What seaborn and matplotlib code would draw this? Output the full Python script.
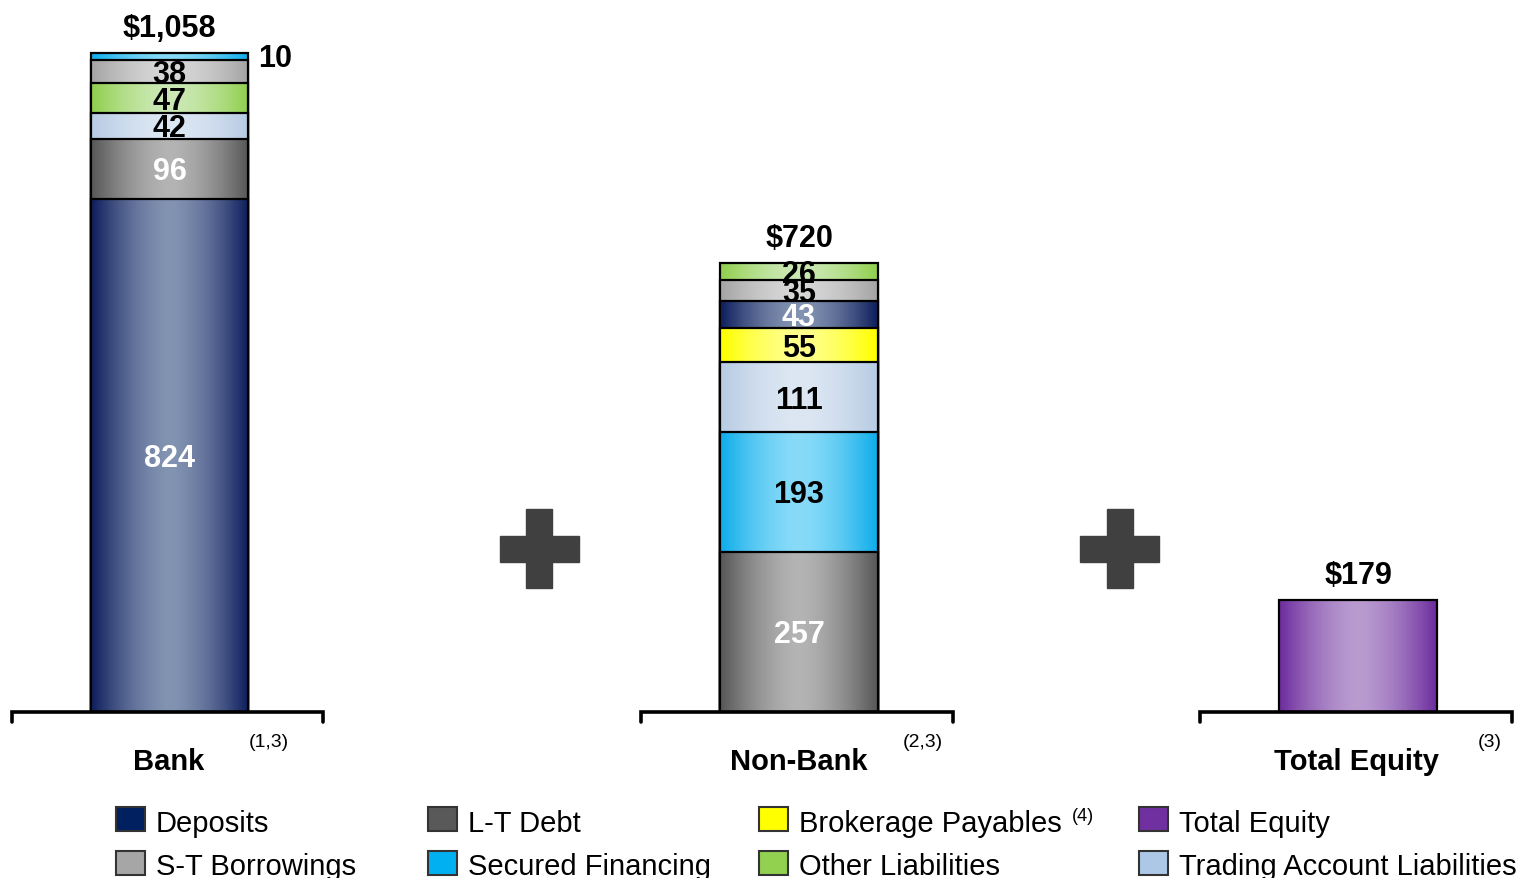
import numpy as np
import pandas as pd
import matplotlib
matplotlib.use("Agg")
import matplotlib.pyplot as plt
import seaborn as sns
from matplotlib.patches import Rectangle
from matplotlib.colors import to_rgb

# ---------------- data ----------------
panels = ["Bank", "Non-Bank", "Total Equity"]
panel_notes = ["(1,3)", "(2,3)", "(3)"]
panel_totals = ["$1,058", "$720", "$179"]

bank_components = ["Deposits", "L-T Debt", "Trading Account Liabilities",
                   "Other Liabilities", "S-T Borrowings", "Secured Financing"]
bank_values = [824, 96, 42, 47, 38, 10]

nonbank_components = ["L-T Debt", "Secured Financing", "Trading Account Liabilities",
                      "Brokerage Payables", "Deposits", "S-T Borrowings", "Other Liabilities"]
nonbank_values = [257, 193, 111, 55, 43, 35, 26]

equity_components = ["Total Equity"]
equity_values = [179]

legend_row1 = ["Deposits", "L-T Debt", "Brokerage Payables", "Total Equity"]
legend_row2 = ["S-T Borrowings", "Secured Financing", "Other Liabilities",
               "Trading Account Liabilities"]

# ---------------- styles ----------------
edge_colors = {
    "Deposits": "#122260",
    "L-T Debt": "#5A5A5A",
    "Brokerage Payables": "#FFFF00",
    "Total Equity": "#7030A0",
    "S-T Borrowings": "#A6A6A6",
    "Secured Financing": "#12AEEB",
    "Other Liabilities": "#92D050",
    "Trading Account Liabilities": "#B8CCE4",
}
center_colors = {
    "Deposits": "#8393B2",
    "L-T Debt": "#B4B4B4",
    "Brokerage Payables": "#FFFF8C",
    "Total Equity": "#B99BD0",
    "S-T Borrowings": "#D8D8D8",
    "Secured Financing": "#88DBF8",
    "Other Liabilities": "#CCE9B5",
    "Trading Account Liabilities": "#DDE7F3",
}
legend_colors = {
    "Deposits": "#002060",
    "L-T Debt": "#595959",
    "Brokerage Payables": "#FFFF00",
    "Total Equity": "#7030A0",
    "S-T Borrowings": "#A6A6A6",
    "Secured Financing": "#00B0F0",
    "Other Liabilities": "#92D050",
    "Trading Account Liabilities": "#ADC8E6",
}
white_label = {"Deposits", "L-T Debt"}

W, H, DPI = 1522, 879, 100
SCALE = 0.623      # pixels per unit
BASE_Y = 713       # baseline pixel row
BAR_W = 0.505
PX2PT = 72 / DPI

sns.set_theme(style="white")
plt.rcParams["font.family"] = ["Liberation Sans", "DejaVu Sans"]

fig = plt.figure(figsize=(W / DPI, H / DPI), dpi=DPI)
fig.patch.set_facecolor("white")


def fx(px):
    return px / W


def fy(py):
    return 1 - py / H


axes_left = [12, 641, 1200]
axes_width = [311, 312, 312]
label_x = [169, 799, 1357]
note_x = [269, 923, 1490]

all_comps = [bank_components, nonbank_components, equity_components]
all_vals = [bank_values, nonbank_values, equity_values]


def gradient(comp):
    u = np.linspace(0, 1, 256)
    t = np.abs(2 * u - 1)
    m = np.clip(t ** 1.6 * 1.05, 0, 1)
    c0 = np.array(to_rgb(center_colors[comp]))
    c1 = np.array(to_rgb(edge_colors[comp]))
    img = c0[None, :] * (1 - m)[:, None] + c1[None, :] * m[:, None]
    return img[None, :, :]


for p in range(3):
    ax = fig.add_axes([fx(axes_left[p]), fy(BASE_Y), axes_width[p] / W, BASE_Y / H])
    ax.set_facecolor("none")
    comps = all_comps[p]
    vals = np.array(all_vals[p], dtype=float)
    tops = np.cumsum(vals)
    bottoms = tops - vals
    order = np.argsort(-tops)
    for k, i in enumerate(order):
        z = 2 + 3 * k
        df = pd.DataFrame({"panel": [panels[p]], "value": [tops[i]]})
        n0 = len(ax.patches)
        sns.barplot(data=df, x="panel", y="value", color=edge_colors[comps[i]],
                    saturation=1, width=BAR_W, ax=ax, edgecolor="none",
                    linewidth=0, zorder=z, errorbar=None)
        patch = ax.patches[n0]
        x0, w, h = patch.get_x(), patch.get_width(), patch.get_height()
        im = ax.imshow(gradient(comps[i]), extent=(x0, x0 + w, 0, h),
                       aspect="auto", zorder=z + 1, interpolation="bilinear")
        im.set_clip_path(patch)
        ax.add_patch(Rectangle((x0, 0), w, h, fill=False, edgecolor="black",
                               linewidth=1.6, zorder=z + 2))
    # segment labels
    if len(comps) > 1:
        for i, comp in enumerate(comps):
            col = "white" if comp in white_label else "black"
            yc = bottoms[i] + vals[i] / 2
            if vals[i] < 15:
                ax.annotate(f"{int(vals[i])}", (0.339, yc), xytext=(0, -1 * PX2PT),
                            textcoords="offset points", ha="center", va="center",
                            fontsize=22, fontweight="bold", color="black",
                            zorder=100, annotation_clip=False)
            else:
                ax.annotate(f"{int(vals[i])}", (0, yc), xytext=(0, -2.5 * PX2PT),
                            textcoords="offset points", ha="center", va="center",
                            fontsize=22, fontweight="bold", color=col, zorder=100,
                            annotation_clip=False)
    # total label
    ax.annotate(panel_totals[p], (0, tops[-1]), xytext=(0, 25 * PX2PT),
                textcoords="offset points", ha="center", va="center",
                fontsize=22, fontweight="bold", color="black",
                annotation_clip=False, zorder=100)
    # bracket axis
    d = 10 / BASE_Y
    ax.plot([0, 0, 1, 1], [-d, 0, 0, -d], transform=ax.transAxes, color="black",
            lw=2.6, clip_on=False, solid_joinstyle="miter", zorder=200)
    dx = 2 / axes_width[p]
    ax.set_xlim(-0.5 - dx, 0.5 - dx)
    ax.set_ylim(0, BASE_Y / SCALE)
    ax.set_xticks([])
    ax.set_yticks([])
    ax.set_xlabel("")
    ax.set_ylabel("")
    for s in ax.spines.values():
        s.set_visible(False)
    # category label and note
    fig.text(fx(label_x[p]), fy(762), panels[p], ha="center", va="center",
             fontsize=21, fontweight="bold", color="black")
    fig.text(fx(note_x[p]), fy(743), panel_notes[p], ha="center", va="center",
             fontsize=14, color="black")

# plus signs
for cx in [539, 1119.5]:
    cy = 549.5
    fig.patches.append(Rectangle((fx(cx - 13), fy(cy + 39.5)), 26 / W, 79 / H,
                                 transform=fig.transFigure, color="#404040"))
    fig.patches.append(Rectangle((fx(cx - 39.5), fy(cy + 13)), 79 / W, 26 / H,
                                 transform=fig.transFigure, color="#404040"))

# legend (manual, 4 columns x 2 rows)
col_x = [116, 428, 759, 1139]
row_top = [808, 852]
row_base = [832, 875]
for r, row in enumerate([legend_row1, legend_row2]):
    for c, name in enumerate(row):
        fig.patches.append(Rectangle((fx(col_x[c]), fy(row_top[r] + 24)), 29 / W, 24 / H,
                                     transform=fig.transFigure,
                                     facecolor=legend_colors[name],
                                     edgecolor="#333333", linewidth=1.5))
        fig.text(fx(col_x[c] + 40), fy(row_base[r]), name, ha="left",
                 va="baseline", fontsize=21, color="black")
fig.text(fx(1083), fy(817), "(4)", ha="center", va="center", fontsize=13,
         color="black")

fig.savefig("out.png", dpi=DPI)
